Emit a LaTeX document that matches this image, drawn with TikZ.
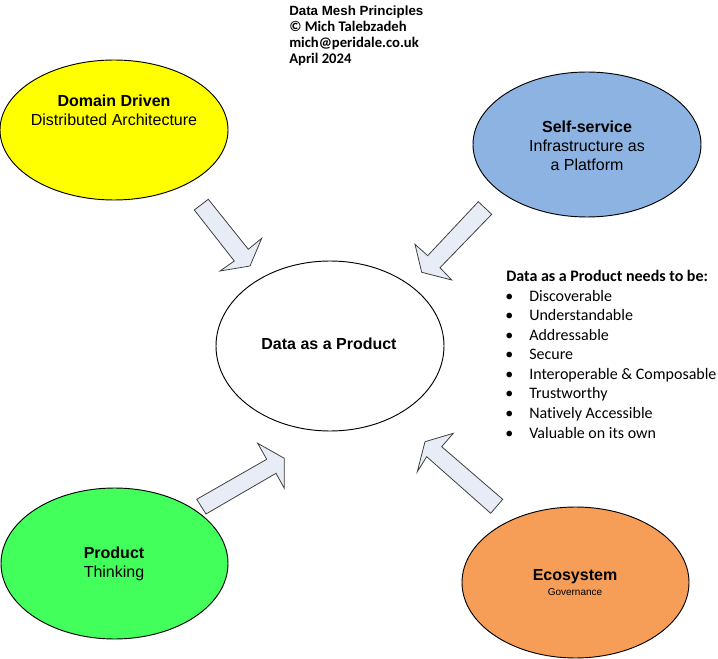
\documentclass[tikz,border=0pt]{standalone}
\usepackage{fontspec}
\setmainfont{Liberation Sans}
\newfontfamily\calibri[Ligatures=NoCommon]{Carlito}
\usepackage{tikz}
\usetikzlibrary{positioning,shapes.geometric}
\definecolor{domain}{HTML}{FFFF00}
\definecolor{selfserve}{HTML}{8DB3E2}
\definecolor{prodthink}{HTML}{42FF5B}
\definecolor{ecosys}{HTML}{F69D58}
\definecolor{arrowfill}{HTML}{E7ECF7}
\definecolor{arrowline}{HTML}{404040}
\tikzset{
  blob/.style={ellipse, draw=black, line width=0.7pt, inner sep=0pt},
  lbl/.style={align=center, inner sep=0pt, font=\fontsize{12}{14.3}\selectfont},
  fatarrow/.style={fill=arrowfill, draw=arrowline, line width=0.6pt, line join=miter},
  needitem/.style={anchor=base west, inner sep=0pt, font=\calibri\fontsize{12}{14.6}\selectfont}
}

\begin{document}
\begin{tikzpicture}[x=0.75pt,y=-0.75pt]
        \useasboundingbox (0,0) rectangle (718,659);
        \node[anchor=north west, align=left, inner sep=0pt, font=\calibri\bfseries\fontsize{11}{12}\selectfont] (title) at (289,5.5)
          {{\rmfamily\fontsize{10}{12}\selectfont\bfseries Data Mesh Principles}\\ \textcopyright{} Mich Talebzadeh\\ mich@peridale.co.uk\\ April 2024};
        % the four principles
        \node[blob, fill=domain, minimum width=171pt, minimum height=105pt] (dom) at (114,130) {};
        \node[blob, fill=selfserve, minimum width=171pt, minimum height=108.75pt] (self) at (587,144.5) {};
        \node[blob, fill=prodthink, minimum width=170.25pt, minimum height=113.25pt] (prod) at (114.5,563.5) {};
        \node[blob, fill=ecosys, minimum width=170.25pt, minimum height=113.25pt] (eco) at (575.5,582.5) {};
        \node[blob, fill=white, minimum width=171pt, minimum height=127.5pt] (dap) at (330,346) {};
        \node[lbl] (domtxt) at (114,110) {\textbf{Domain Driven}\\ Distributed Architecture};
        \node[lbl] (selftxt) at (587,146) {\textbf{Self-service}\\ Infrastructure as\\ a Platform};
        \node[lbl] (prodtxt) at (114,563.5) {\textbf{Product}\\ Thinking};
        \node[lbl] (ecotxt) at (575,583) {\textbf{Ecosystem}\\[-3pt] {\fontsize{7.5}{8}\selectfont Governance}};
        \node[lbl, font=\bfseries\fontsize{12}{14}\selectfont] (daptxt) at (329,344) {Data as a Product};
        % block arrows into the middle
        \draw[fatarrow] (194.3,210) -- (208.3,199.3) -- (248.3,249.3) -- (261.7,238.3) -- (250,266) -- (220,271) -- (234.3,261) -- cycle;
        \draw[fatarrow] (478.3,201.7) -- (491.7,214.3) -- (440,267.7) -- (451.7,280) -- (421.7,272.3) -- (415,244.3) -- (427.7,255.7) -- cycle;
        \draw[fatarrow] (196.7,499.3) -- (266.7,459.3) -- (257.7,443.3) -- (284.3,458.3) -- (284.3,488.3) -- (276,473.3) -- (206,514) -- cycle;
        \draw[fatarrow] (502.7,499.3) -- (441.7,446.7) -- (453.3,433.3) -- (425,441.7) -- (417.3,471.7) -- (426.7,456.7) -- (490.7,513.3) -- cycle;
        % what the product needs
        \node[needitem, font=\calibri\bfseries\fontsize{12}{14.6}\selectfont] (needs) at (506,282) {Data as a Product needs to be:};
        \foreach \txt [count=\i] in {Discoverable, Understandable, Addressable, Secure,
            Interoperable \& Composable, Trustworthy, Natively Accessible, Valuable on its own}{
          \node[needitem] (bul\i) at (505,{282+19.5*\i}) {\textbullet};
          \node[needitem] (need\i) at (529,{282+19.5*\i}) {\txt};
        }
      \end{tikzpicture}
\end{document}
